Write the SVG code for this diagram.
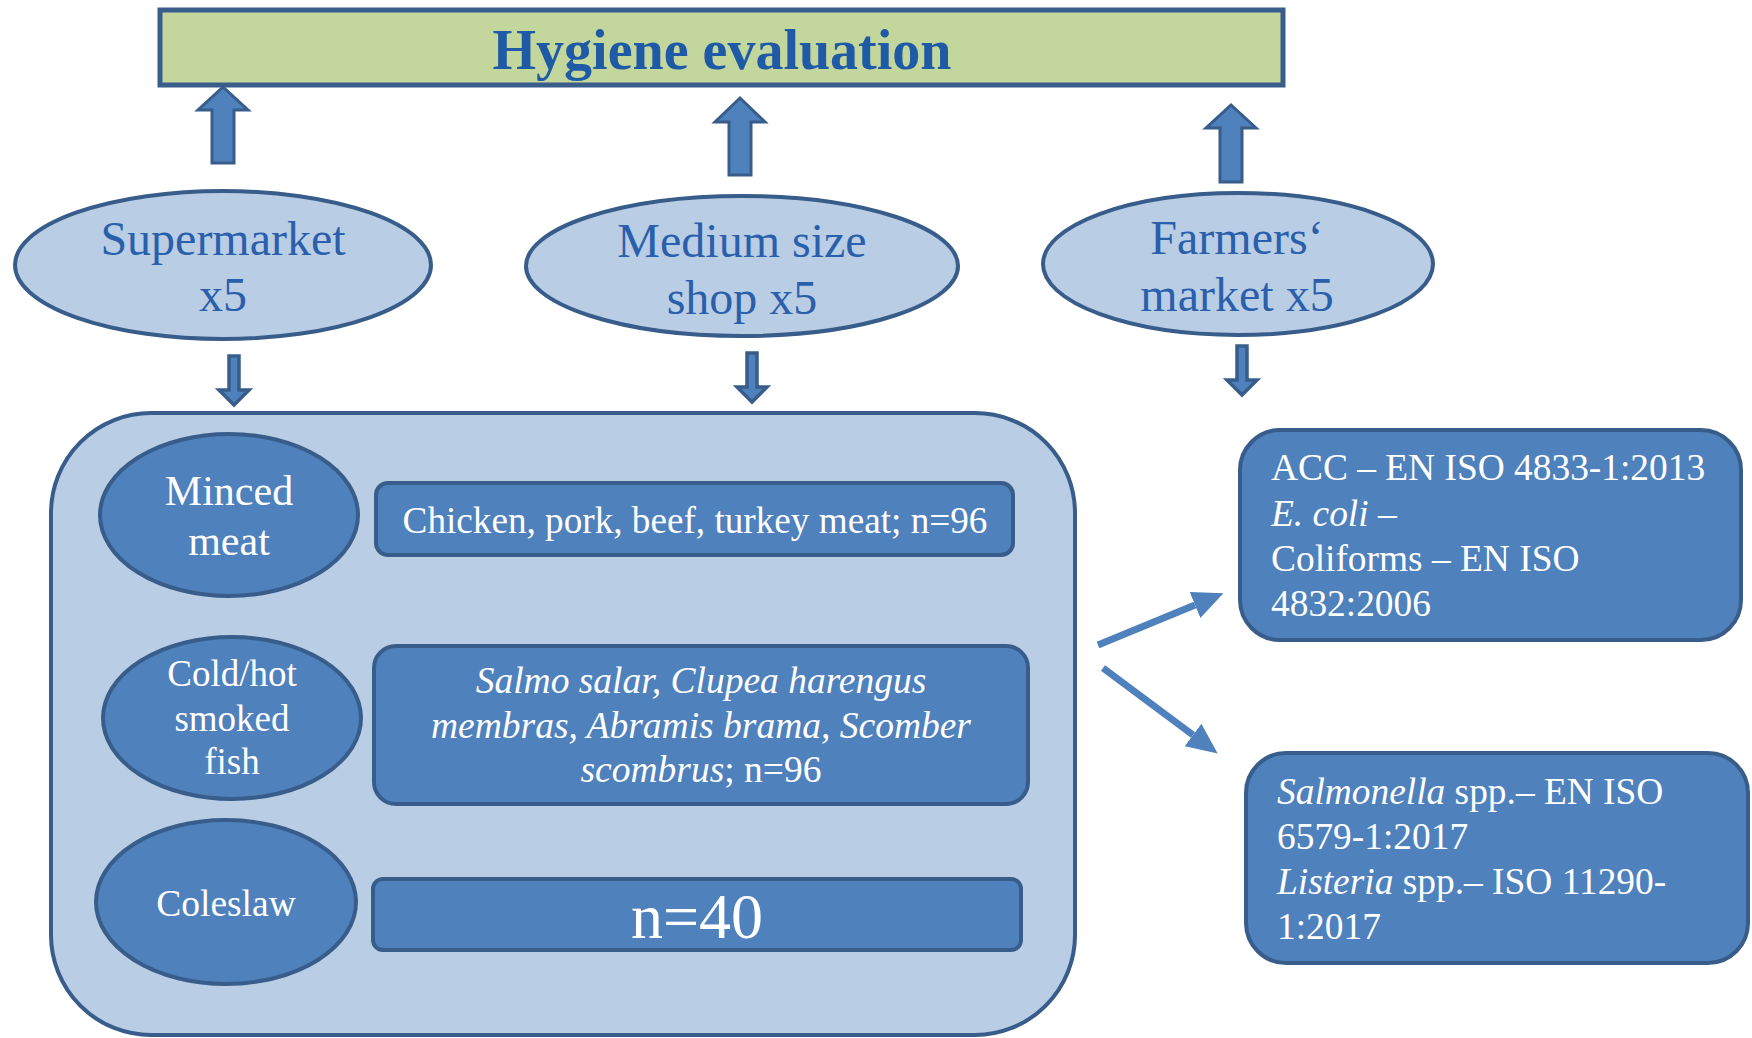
<svg xmlns="http://www.w3.org/2000/svg" width="1752" height="1038" viewBox="0 0 1752 1038">
<style>
.t{font-family:"Liberation Serif","Times New Roman",serif}
.lt{fill:#b9cde5;stroke:#385d8a;stroke-width:4}
.dk{fill:#4f81bd;stroke:#385d8a;stroke-width:4}
.up{fill:#4f81bd;stroke:#385d8a;stroke-width:3}
.dn{fill:#4f81bd;stroke:#385d8a;stroke-width:3.5}
.bt{fill:#2a5fab;font-size:48px;text-anchor:middle}
.wt{fill:#ffffff}
.diag{stroke:#4f81bd;stroke-width:7;fill:none}
</style>
<defs>
<marker id="ah" markerWidth="4.4" markerHeight="4" viewBox="0 0 4.4 4" refX="0" refY="2" orient="auto" markerUnits="strokeWidth">
<path d="M0,0 L4.4,2 L0,4 Z" fill="#4f81bd"/>
</marker>
</defs>
<rect width="1752" height="1038" fill="#ffffff"/>

<g id="header">
<rect x="160" y="10" width="1123" height="75" fill="#c3d69b" stroke="#385d8a" stroke-width="5"/>
<text class="t" x="722" y="69" font-size="56" font-weight="bold" fill="#1f5aa6" text-anchor="middle">Hygiene evaluation</text>
</g>

<g id="supermarket">
<ellipse class="lt" cx="223" cy="265" rx="208" ry="74"/>
<text class="t bt" x="223" y="255">Supermarket</text>
<text class="t bt" x="223" y="311">x5</text>
</g>
<g id="medium">
<ellipse class="lt" cx="742" cy="266" rx="216" ry="70"/>
<text class="t bt" x="742" y="257">Medium size</text>
<text class="t bt" x="742" y="314">shop x5</text>
</g>
<g id="farmers">
<ellipse class="lt" cx="1238" cy="264" rx="195" ry="71"/>
<text class="t bt" x="1237" y="254">Farmers‘</text>
<text class="t bt" x="1237" y="311">market x5</text>
</g>

<g id="container">
<rect class="lt" x="51" y="413" width="1024" height="622" rx="100" ry="100"/>
</g>

<g id="minced">
<ellipse class="dk" cx="229" cy="515" rx="129" ry="81"/>
<text class="t wt" x="229" y="505" font-size="42" text-anchor="middle">Minced</text>
<text class="t wt" x="229" y="555" font-size="42" text-anchor="middle">meat</text>
</g>
<g id="minced-desc">
<rect class="dk" x="376" y="483" width="637" height="72" rx="12"/>
<text class="t wt" x="695" y="533" font-size="37.2" text-anchor="middle">Chicken, pork, beef, turkey meat; n=96</text>
</g>

<g id="fish">
<ellipse class="dk" cx="232" cy="718" rx="129" ry="81"/>
<text class="t wt" x="232" y="686" font-size="37" text-anchor="middle">Cold/hot</text>
<text class="t wt" x="232" y="731" font-size="37" text-anchor="middle">smoked</text>
<text class="t wt" x="232" y="774" font-size="37" text-anchor="middle">fish</text>
</g>
<g id="fish-desc">
<rect class="dk" x="374" y="646" width="654" height="158" rx="22"/>
<text class="t wt" x="701" y="693" font-size="37.5" font-style="italic" text-anchor="middle">Salmo salar, Clupea harengus</text>
<text class="t wt" x="701" y="738" font-size="37.5" font-style="italic" text-anchor="middle">membras, Abramis brama, Scomber</text>
<text class="t wt" x="701" y="782" font-size="37.5" text-anchor="middle"><tspan font-style="italic">scombrus</tspan>; n=96</text>
</g>

<g id="coleslaw">
<ellipse class="dk" cx="226" cy="902" rx="130" ry="82"/>
<text class="t wt" x="226" y="916" font-size="37.5" text-anchor="middle">Coleslaw</text>
</g>
<g id="coleslaw-desc">
<rect class="dk" x="373" y="879" width="648" height="71" rx="10"/>
<text class="t wt" x="697" y="938" font-size="64" text-anchor="middle">n=40</text>
</g>

<g id="methods1">
<rect class="dk" x="1240" y="430" width="501" height="210" rx="40"/>
<text class="t wt" x="1271" y="480" font-size="37.4">ACC – EN ISO 4833-1:2013</text>
<text class="t wt" x="1271" y="526" font-size="37.4"><tspan font-style="italic">E. coli</tspan> –</text>
<text class="t wt" x="1271" y="571" font-size="37.4">Coliforms – EN ISO</text>
<text class="t wt" x="1271" y="616" font-size="37.4">4832:2006</text>
</g>
<g id="methods2">
<rect class="dk" x="1246" y="753" width="502" height="210" rx="40"/>
<text class="t wt" x="1277" y="804" font-size="37.4"><tspan font-style="italic">Salmonella</tspan> spp.– EN ISO</text>
<text class="t wt" x="1277" y="849" font-size="37.4">6579-1:2017</text>
<text class="t wt" x="1277" y="894" font-size="37.4"><tspan font-style="italic">Listeria</tspan> spp.– ISO 11290-</text>
<text class="t wt" x="1277" y="939" font-size="37.4">1:2017</text>
</g>

<g id="connectors">
<path class="up" d="M212,163 L212,110 L198,110 L223,87 L248,110 L234,110 L234,163 Z"/>
<path class="up" d="M729,175 L729,122 L715,122 L740,98 L765,122 L751,122 L751,175 Z"/>
<path class="up" d="M1220,182 L1220,128 L1206,128 L1231,105 L1256,128 L1242,128 L1242,182 Z"/>
<path class="dn" d="M229,356 L239,356 L239,390 L249,390 L234,405 L219,390 L229,390 Z"/>
<path class="dn" d="M747,353 L757,353 L757,387 L767,387 L752,402 L737,387 L747,387 Z"/>
<path class="dn" d="M1237,346 L1247,346 L1247,380 L1257,380 L1242,395 L1227,380 L1237,380 Z"/>
<line class="diag" x1="1098" y1="645" x2="1195" y2="605" marker-end="url(#ah)"/>
<line class="diag" x1="1103" y1="668" x2="1193" y2="735" marker-end="url(#ah)"/>
</g>
</svg>
